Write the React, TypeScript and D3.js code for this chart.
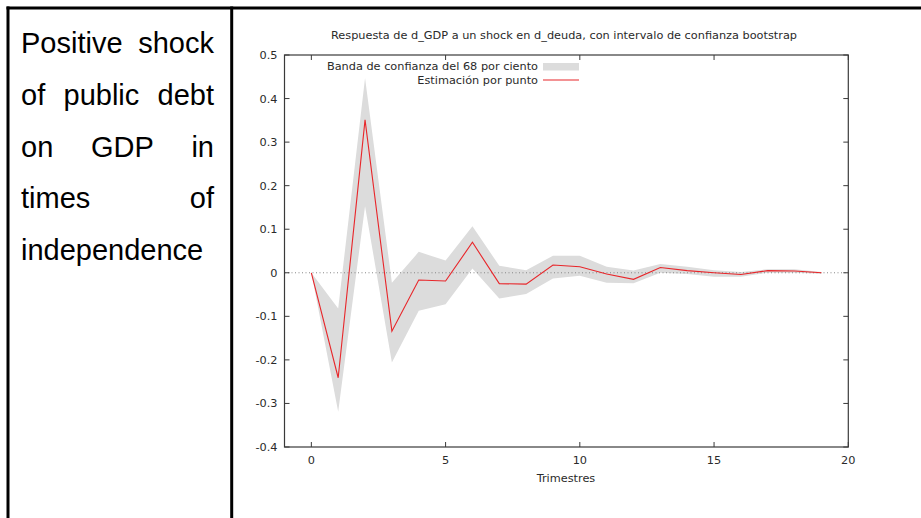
import React from "react";
import * as d3 from "d3";

const horizons = [0, 1, 2, 3, 4, 5, 6, 7, 8, 9, 10, 11, 12, 13, 14, 15, 16, 17, 18, 19];
const pointEstimate = [0, -0.241, 0.351, -0.134, -0.0165, -0.019, 0.07, -0.025, -0.026, 0.018, 0.014, -0.003, -0.015, 0.012, 0.005, 0.0, -0.004, 0.005, 0.004, 0.0];
const bandLower = [0, -0.319, 0.153, -0.206, -0.087, -0.072, 0.01, -0.059, -0.049, -0.013, -0.007, -0.023, -0.024, 0.0, -0.003, -0.009, -0.009, 0.0, 0.0, -0.002];
const bandUpper = [0, -0.082, 0.447, -0.023, 0.048, 0.028, 0.107, 0.016, 0.006, 0.039, 0.039, 0.014, 0.005, 0.02, 0.014, 0.006, 0.002, 0.008, 0.008, 0.002];
const xTicks = [0, 5, 10, 15, 20];
const yTicks = [-0.4, -0.3, -0.2, -0.1, 0, 0.1, 0.2, 0.3, 0.4, 0.5];
const yTickLabels = ["-0.4", "-0.3", "-0.2", "-0.1", "0", "0.1", "0.2", "0.3", "0.4", "0.5"];
const titleText = "Respuesta de d_GDP a un shock en d_deuda, con intervalo de confianza bootstrap";
const legendBand = "Banda de confianza del 68 por ciento";
const legendLine = "Estimación por punto";
const xLabel = "Trimestres";

export default function App() {
  const W = 921, H = 518;
  const left = 284.5, right = 848.3, top = 55, bottom = 447;
  const x = d3.scaleLinear().domain([-1, 20]).range([left, right]);
  const y = d3.scaleLinear().domain([-0.4, 0.5]).range([bottom, top]);

  const area = d3.area<number>()
    .x((_, i) => x(horizons[i]))
    .y0((_, i) => y(bandLower[i]))
    .y1((_, i) => y(bandUpper[i]));
  const line = d3.line<number>()
    .x((_, i) => x(horizons[i]))
    .y((d) => y(d));

  const chartFont = "'DejaVu Sans', Verdana, sans-serif";
  const textFont = "'Liberation Sans', Arial, sans-serif";
  const axisColor = "#3a3a3a";
  const tickLen = 5;

  return (
    <svg width={W} height={H} style={{ position: "absolute", left: 0, top: 0, background: "#fff" }}>
      <rect x={0} y={0} width={W} height={H} fill="#fff" />
      {/* table borders */}
      <line x1={6.5} y1={8} x2={W} y2={8} stroke="#000" strokeWidth={3} />
      <line x1={8} y1={6.5} x2={8} y2={H} stroke="#000" strokeWidth={3} />
      <line x1={231.7} y1={6.5} x2={231.7} y2={H} stroke="#000" strokeWidth={3} />

      {/* left cell text (justified) */}
      <g fontFamily={textFont} fontSize={29} fill="#000">
        <text x={21} y={53}>Positive</text>
        <text x={214} y={53} textAnchor="end">shock</text>
        <text x={21} y={105}>of</text>
        <text x={63.5} y={105}>public</text>
        <text x={214} y={105} textAnchor="end">debt</text>
        <text x={21} y={157}>on</text>
        <text x={91} y={157}>GDP</text>
        <text x={214} y={157} textAnchor="end">in</text>
        <text x={21} y={208}>times</text>
        <text x={214} y={208} textAnchor="end">of</text>
        <text x={21} y={260}>independence</text>
      </g>

      {/* chart */}
      <g fontFamily={chartFont} fontSize={11.3} fill="#2a2a2a">
        <text x={564} y={39} textAnchor="middle">{titleText}</text>

        <path d={area(pointEstimate) || ""} fill="#dcdcdc" stroke="none" />
        <line x1={left} x2={right} y1={y(0)} y2={y(0)} stroke="#888" strokeWidth={1} strokeDasharray="1,2.5" />
        <path d={line(pointEstimate) || ""} fill="none" stroke="#e8262a" strokeWidth={1.1} />

        {/* frame */}
        <rect x={left} y={top} width={right - left} height={bottom - top} fill="none" stroke={axisColor} strokeWidth={1.2} />

        {/* x ticks */}
        {xTicks.map((t) => (
          <g key={"x" + t}>
            <line x1={x(t)} x2={x(t)} y1={bottom} y2={bottom - tickLen} stroke={axisColor} />
            <line x1={x(t)} x2={x(t)} y1={top} y2={top + tickLen} stroke={axisColor} />
            <text x={x(t)} y={464} textAnchor="middle">{String(t)}</text>
          </g>
        ))}
        {/* y ticks */}
        {yTicks.map((t, i) => (
          <g key={"y" + i}>
            <line x1={left} x2={left + tickLen} y1={y(t)} y2={y(t)} stroke={axisColor} />
            <line x1={right} x2={right - tickLen} y1={y(t)} y2={y(t)} stroke={axisColor} />
            <text x={277.5} y={y(t) + 4} textAnchor="end">{yTickLabels[i]}</text>
          </g>
        ))}

        <text x={566} y={482} textAnchor="middle">{xLabel}</text>

        {/* legend */}
        <text x={538} y={70} textAnchor="end">{legendBand}</text>
        <rect x={543} y={63} width={36} height={7.5} fill="#dcdcdc" />
        <text x={538} y={84} textAnchor="end">{legendLine}</text>
        <line x1={543} x2={579} y1={80} y2={80} stroke="#e8262a" strokeWidth={1.1} />
      </g>
    </svg>
  );
}
